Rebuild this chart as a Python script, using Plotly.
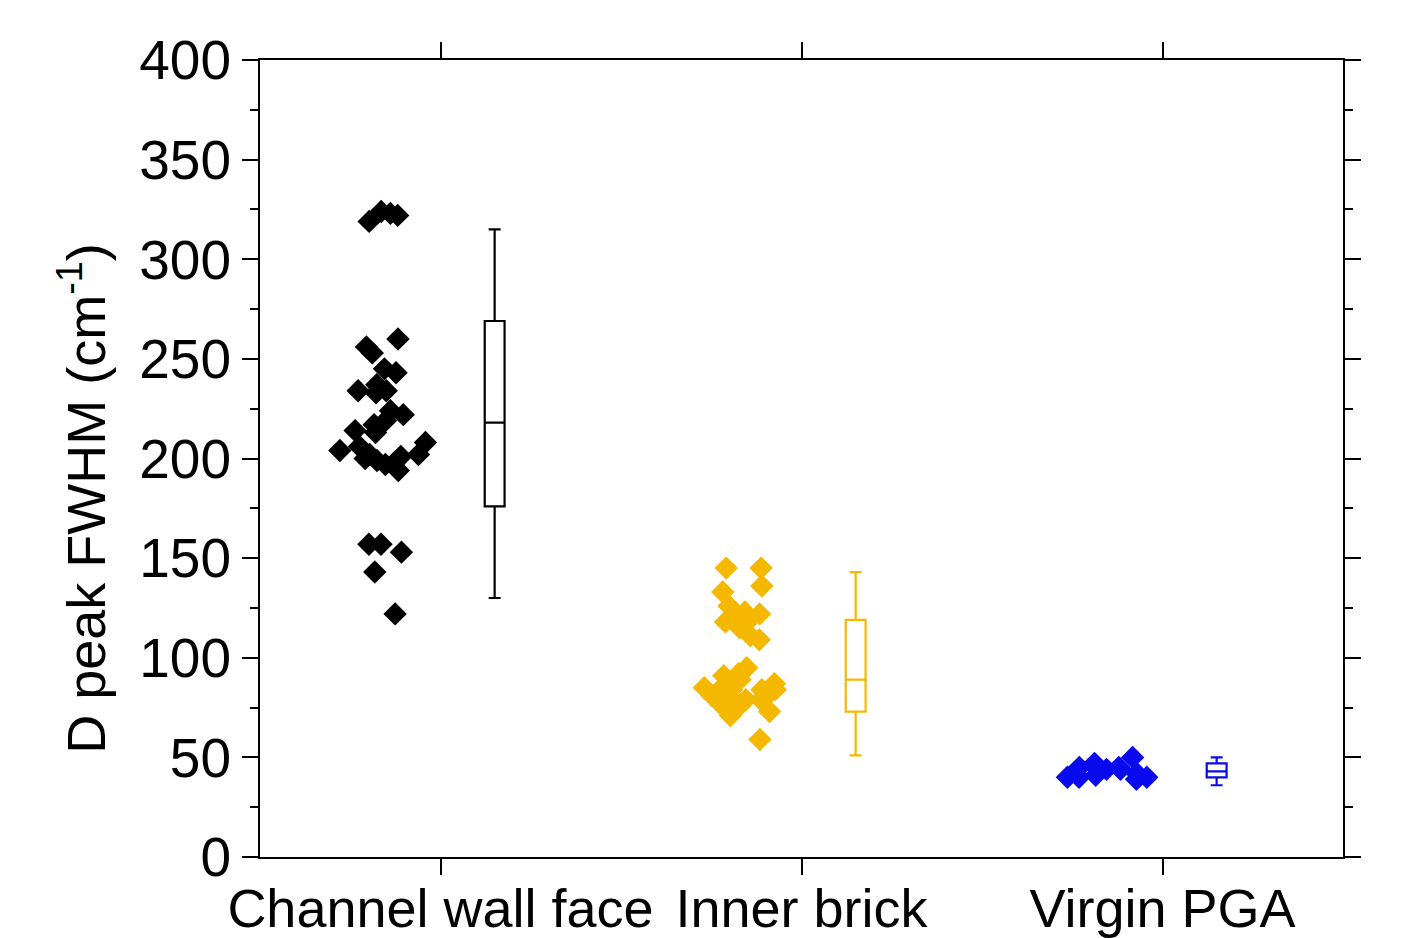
import plotly.graph_objects as go

categories = ["Channel wall face", "Inner brick", "Virgin PGA"]
colors = ["#000000", "#F5B800", "#0A0AEE"]

channel_wall = [319, 322, 324, 323, 260, 256, 253, 245, 237, 234, 233, 234, 243,
                222, 213, 208, 214, 202, 217, 224, 219, 206, 202, 199, 197, 198,
                194, 201, 204, 200, 157, 153, 157, 143, 122]
inner_brick = [145, 145, 136, 133, 122, 123, 120, 115, 118, 109, 111, 118, 126,
               89, 84, 85, 81, 79, 91, 79, 76, 79, 73, 76, 71, 95, 87, 59, 84,
               84, 86, 92, 80]
virgin_pga = [45, 40, 45, 40, 50, 44, 41, 40, 39, 44, 45, 47, 42]

box_low = [130, 51, 36]
box_q1 = [176, 73, 40]
box_median = [218, 89, 43]
box_q3 = [269, 119, 47]
box_high = [315, 143, 50]

series = [channel_wall, inner_brick, virgin_pga]

fig = go.Figure()
for i, (vals, col) in enumerate(zip(series, colors)):
    pos = i + 1
    # scattered points (box itself hidden)
    fig.add_trace(go.Box(
        x=[pos - 0.15] * len(vals), y=vals,
        boxpoints="all", jitter=1, pointpos=0, width=0.30,
        line=dict(width=0, color="rgba(0,0,0,0)"),
        fillcolor="rgba(0,0,0,0)", whiskerwidth=0,
        marker=dict(symbol="diamond", size=18, color=col, line=dict(width=0)),
        showlegend=False, hoverinfo="y",
    ))
    # box with statistics
    fig.add_trace(go.Box(
        x=[pos + 0.15], q1=[box_q1[i]], median=[box_median[i]], q3=[box_q3[i]],
        lowerfence=[box_low[i]], upperfence=[box_high[i]],
        width=0.055, whiskerwidth=0.6,
        line=dict(color=col, width=2.2), fillcolor="rgba(255,255,255,0)",
        boxpoints=False, showlegend=False,
    ))

font_family = "Arial, Liberation Sans, sans-serif"
fig.update_layout(
    width=1406, height=938,
    margin=dict(l=252, r=71, t=52, b=89, autoexpand=False),
    paper_bgcolor="white", plot_bgcolor="white",
    boxmode="overlay",
    font=dict(family=font_family, color="black"),
    xaxis=dict(
        range=[0.5, 3.5], tickvals=[1, 2, 3], ticktext=categories,
        ticks="outside", ticklen=16, tickwidth=2, tickcolor="black",
        showline=True, linewidth=2, linecolor="black", mirror="allticks",
        showgrid=False, zeroline=False, automargin=False,
        ticklabelstandoff=-13,
        tickfont=dict(size=54, family=font_family, color="black"),
    ),
    yaxis=dict(
        range=[0, 400], dtick=50, tick0=0,
        ticks="outside", ticklen=16, tickwidth=2, tickcolor="black",
        minor=dict(dtick=25, ticks="outside", ticklen=8, tickwidth=2, tickcolor="black"),
        showline=True, linewidth=2, linecolor="black", mirror="allticks",
        showgrid=False, zeroline=False, automargin=False,
        tickfont=dict(size=55, family=font_family, color="black"),
    ),
    annotations=[dict(
        text="D peak FWHM (cm<sup>-1</sup>)", textangle=-90,
        xref="paper", yref="paper", x=-0.164, y=0.45,
        xanchor="center", yanchor="middle", showarrow=False,
        font=dict(size=54, family=font_family, color="black"),
    )],
)

fig.write_html("out.html")
